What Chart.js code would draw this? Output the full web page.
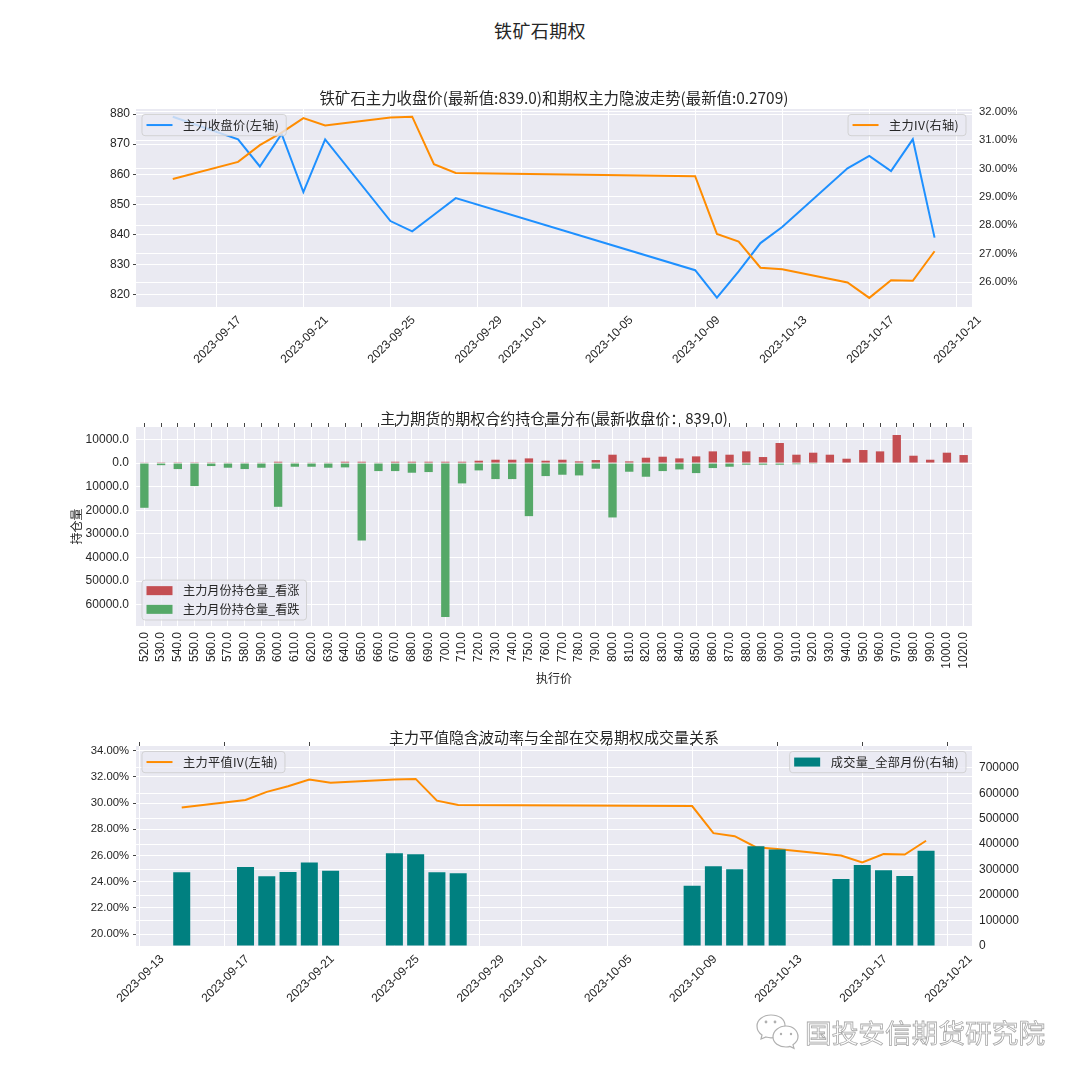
<!DOCTYPE html>
<html>
<head>
<meta charset="utf-8">
<script src="https://cdn.jsdelivr.net/npm/chart.js@4"></script>
<style>
html, body { margin: 0; padding: 0; background: #fff; }
body { position: relative; width: 1080px; height: 1080px; overflow: hidden; font-family: "Noto Sans CJK SC", sans-serif; }
canvas { position: absolute; left: 28px; }
#suptitle { position: absolute; left: 0; width: 1080px; top: 18px; text-align: center; font-size: 18px; line-height: 24px; color: #262626; letter-spacing: .4px; }
#mark { position: absolute; left: 805px; top: 1013px; font-size: 26.7px; line-height: 38px; color: #fff; -webkit-text-stroke: .8px #a8a8a8; white-space: nowrap; }
#icon { position: absolute; left: 755px; top: 1012px; }
</style>
</head>
<body>
<div id="suptitle">铁矿石期权</div>
<canvas id="c1" width="1052" height="303" style="top:89px;width:1052px;height:303px"></canvas>
<canvas id="c2" width="1052" height="281" style="top:409px;width:1052px;height:281px"></canvas>
<canvas id="c3" width="1052" height="298" style="top:728px;width:1052px;height:298px"></canvas>
<svg id="icon" width="46" height="40" viewBox="0 0 46 40">
  <path d="M16 3C8 3 2 8 2 14c0 4 2 7 5 9l-1 4 5-2c2 .6 3 .8 5 .8 8 0 14-5 14-12S24 3 16 3z" fill="#fff" stroke="#b0b0b0" stroke-width="1.2"/>
  <path d="M31 14c-7 0-13 5-13 11s6 10 13 10c1.500 0 3-.2 4-.6l4 2-1-3.600c3-2 5-5 5-8 0-6-5-10.800-12-10.800z" fill="#fff" stroke="#b0b0b0" stroke-width="1.2"/>
  <circle cx="11" cy="10" r="1.400" fill="#b0b0b0"/><circle cx="20" cy="10" r="1.400" fill="#b0b0b0"/>
  <circle cx="26" cy="22" r="1.200" fill="#b0b0b0"/><circle cx="36" cy="22" r="1.200" fill="#b0b0b0"/>
</svg>
<div id="mark">国投安信期货研究院</div>

<script>
// Datos
const fechas = ['2023-09-15','2023-09-18','2023-09-19','2023-09-20','2023-09-21','2023-09-22','2023-09-25','2023-09-26','2023-09-27','2023-09-28',
  '2023-10-09','2023-10-10','2023-10-11','2023-10-12','2023-10-13','2023-10-16','2023-10-17','2023-10-18','2023-10-19','2023-10-20'];
const cierre = [879.1,871.6,862.6,873.4,854.1,871.6,844.5,841.1,846.6,852.1,828.2,819.1,827.8,837.2,842.5,862,866.1,861.1,871.6,839];
const ivPrincipal = [29.63,30.23,30.82,31.26,31.77,31.51,31.79,31.82,30.15,29.84,29.73,27.70,27.43,26.51,26.46,25.99,25.45,26.07,26.05,27.09];
const ivPlano = [29.66,30.24,30.86,31.29,31.80,31.55,31.80,31.85,30.19,29.86,29.78,27.71,27.48,26.64,26.51,26.00,25.47,26.11,26.08,27.13];
const volumen = [289500,310500,273700,290800,327600,296000,364500,360500,289500,285500,236800,313200,301300,392100,378900,263200,318400,297400,275000,373700];

const strikes = ['520.0','530.0','540.0','550.0','560.0','570.0','580.0','590.0','600.0','610.0','620.0','630.0','640.0','650.0','660.0','670.0','680.0','690.0','700.0','710.0',
  '720.0','730.0','740.0','750.0','760.0','770.0','780.0','790.0','800.0','810.0','820.0','830.0','840.0','850.0','860.0','870.0','880.0','890.0','900.0','910.0',
  '920.0','930.0','940.0','950.0','960.0','970.0','980.0','990.0','1000.0','1020.0'];
const oiCall = [280,100,100,100,100,150,280,280,560,280,280,280,560,560,280,560,560,560,560,560,
  990,1410,1410,1980,990,1410,710,1270,3540,710,2260,2690,1980,2830,4950,3540,4950,2550,8490,3540,
  4390,3540,1840,5520,4950,11890,3110,1410,4390,3400];
const oiPut = [-18960,-900,-2550,-9760,-1270,-1980,-2550,-1980,-18540,-1560,-1560,-1980,-1840,-32830,-3400,-3400,-4100,-3820,-65230,-8630,
  -3110,-6790,-6790,-22500,-5520,-4950,-5240,-2400,-23060,-3680,-5800,-3400,-2690,-4250,-2120,-1560,-700,-700,-700,-500,
  -100,0,0,0,0,0,0,0,0,0];

const ticksFecha1 = ['2023-09-17','2023-09-21','2023-09-25','2023-09-29','2023-10-01','2023-10-05','2023-10-09','2023-10-13','2023-10-17','2023-10-21'];
const ticksFecha3 = ['2023-09-13','2023-09-17','2023-09-21','2023-09-25','2023-09-29','2023-10-01','2023-10-05','2023-10-09','2023-10-13','2023-10-17','2023-10-21'];
const ticksCierre = [820,830,840,850,860,870,880];
const ticksIvDer = [26,27,28,29,30,31,32];
const ticksOi = [10000,0,-10000,-20000,-30000,-40000,-50000,-60000];
const ticksIvIzq = [20,22,24,26,28,30,32,34];
const ticksVol = [0,100000,200000,300000,400000,500000,600000,700000];

const FUENTE = '"Liberation Sans","Noto Sans CJK SC",sans-serif';
const TEXTO = '#262626';
const FONDO = '#EAEAF2';

const aDia = s => Date.parse(s + 'T00:00:00Z') / 864e5;
const aFecha = d => new Date(d * 864e5).toISOString().slice(0, 10);
const puntos = (arr) => arr.map((v, i) => ({ x: aDia(fechas[i]), y: v }));

// Fondo gris del area de dibujo y leyendas tipo matplotlib (hay dos por grafico)
const fondoYLeyenda = {
  id: 'fondoYLeyenda',
  beforeDraw(chart) {
    const a = chart.chartArea, ctx = chart.ctx;
    ctx.save();
    ctx.fillStyle = FONDO;
    ctx.fillRect(a.left, a.top, a.right - a.left, a.bottom - a.top);
    ctx.restore();
  },
  afterDraw(chart, args, opts) {
    (opts.cajas || []).forEach(caja => dibujarCaja(chart, caja));
  }
};

function dibujarCaja(chart, caja) {
  const a = chart.chartArea, ctx = chart.ctx;
  ctx.save();
  ctx.font = '12.2px "Noto Sans CJK SC"';
  ctx.letterSpacing = (caja.espacio || 0) + 'px';
  let anchoTexto = 0;
  caja.items.forEach(it => { anchoTexto = Math.max(anchoTexto, ctx.measureText(it.texto).width); });
  const ancho = 4.5 + 26 + 10.5 + anchoTexto + 7;
  const fila = 18.7;
  const alto = caja.items.length * fila + 2.5;
  const x = caja.lado === 'der' ? a.right - 6 - ancho : a.left + 6;
  const y = caja.vert === 'abajo' ? a.bottom - 6 - alto : a.top + 5.5;
  ctx.beginPath();
  ctx.roundRect(x, y, ancho, alto, 3);
  ctx.fillStyle = 'rgba(234,234,242,0.8)';
  ctx.fill();
  ctx.strokeStyle = 'rgba(204,204,204,0.8)';
  ctx.lineWidth = 1;
  ctx.stroke();
  caja.items.forEach((it, i) => {
    const cy = y + 1.2 + fila * (i + 0.5);
    if (it.tipo === 'barra') {
      ctx.fillStyle = it.color;
      ctx.fillRect(x + 4.5, cy - 4.5, 26, 9);
    } else {
      ctx.strokeStyle = it.color;
      ctx.lineWidth = 2;
      ctx.beginPath();
      ctx.moveTo(x + 4.5, cy);
      ctx.lineTo(x + 30.5, cy);
      ctx.stroke();
    }
    ctx.fillStyle = TEXTO;
    ctx.textBaseline = 'middle';
    ctx.textAlign = 'left';
    ctx.fillText(it.texto, x + 41, cy);
  });
  ctx.restore();
}

const fijarAncho = w => s => { s.width = w; };
const fijarAlto = h => s => { s.height = h; };
const fuenteTick = { family: FUENTE, size: 12 };
const fuentePct = { family: FUENTE, size: 11.3 };

function titulo(texto, size, abajo) {
  return { display: true, text: texto, color: TEXTO, padding: { top: 0, bottom: abajo }, font: { family: '"Noto Sans CJK SC"', size, weight: 'normal', lineHeight: 18 / size } };
}

function ejeY(pos, lista, fmt, min, max, conMarca, padding, fuente) {
  return {
    position: pos, min, max,
    afterFit: fijarAncho(108),
    afterBuildTicks: s => { s.ticks = lista.map(v => ({ value: v })); },
    border: { display: false },
    grid: { color: '#fff', lineWidth: 1, drawTicks: conMarca, tickLength: 3, tickColor: '#444' },
    ticks: { font: fuente, color: TEXTO, padding, callback: fmt, autoSkip: false }
  };
}

function ejeFecha(lista, min, max, alto) {
  return {
    type: 'linear', position: 'bottom', min, max, offset: false,
    afterFit: fijarAlto(alto),
    afterBuildTicks: s => { s.ticks = lista.map(d => ({ value: aDia(d) })); },
    border: { display: false },
    grid: { color: '#fff', lineWidth: 1, drawTicks: false, offset: false },
    ticks: { font: fuenteTick, color: TEXTO, minRotation: 45, maxRotation: 45, autoSkip: false, labelOffset: 23, padding: 6, callback: v => aFecha(v) }
  };
}

const opcionesBase = {
  responsive: false,
  animation: false,
  devicePixelRatio: 1,
  layout: { padding: 0 }
};

// Grafico 1
new Chart(document.getElementById('c1'), {
  type: 'line',
  plugins: [fondoYLeyenda],
  data: {
    datasets: [
      { label: '主力IV(右轴)', data: puntos(ivPrincipal), yAxisID: 'yDer', borderColor: '#FF8C00', borderWidth: 2, pointRadius: 0, tension: 0, order: 1 },
      { label: '主力收盘价(左轴)', data: puntos(cierre), yAxisID: 'yIzq', borderColor: '#1E90FF', borderWidth: 2, pointRadius: 0, tension: 0, order: 2 }
    ]
  },
  options: {
    ...opcionesBase,
    plugins: {
      legend: { display: false },
      tooltip: { enabled: false },
      title: titulo('铁矿石主力收盘价(最新值:839.0)和期权主力隐波走势(最新值:0.2709)', 15.4, 2),
      fondoYLeyenda: { cajas: [
        { lado: 'izq', espacio: 0.3, items: [{ texto: '主力收盘价(左轴)', color: '#1E90FF', tipo: 'linea' }] },
        { lado: 'der', espacio: 0.3, items: [{ texto: '主力IV(右轴)', color: '#FF8C00', tipo: 'linea' }] }
      ] }
    },
    scales: {
      x: ejeFecha(ticksFecha1, aDia('2023-09-17') - 3.69, aDia('2023-10-21') + 0.72, 85),
      yIzq: ejeY('left', ticksCierre, v => String(v), 816, 881.66, true, 3, fuenteTick),
      yDer: ejeY('right', ticksIvDer, v => v.toFixed(2) + '%', 25.13, 32.09, false, 7, fuentePct)
    }
  }
});

// Grafico 2
new Chart(document.getElementById('c2'), {
  type: 'bar',
  plugins: [fondoYLeyenda],
  data: {
    labels: strikes,
    datasets: [
      { label: '主力月份持仓量_看涨', data: oiCall, backgroundColor: '#C44E52', stack: 'oi', barPercentage: 0.5, categoryPercentage: 1 },
      { label: '主力月份持仓量_看跌', data: oiPut, backgroundColor: '#55A868', stack: 'oi', barPercentage: 0.5, categoryPercentage: 1 }
    ]
  },
  options: {
    ...opcionesBase,
    plugins: {
      legend: { display: false },
      tooltip: { enabled: false },
      title: titulo('主力期货的期权合约持仓量分布(最新收盘价：839.0)', 15, 0),
      fondoYLeyenda: { cajas: [
        { lado: 'izq', vert: 'abajo', items: [
          { texto: '主力月份持仓量_看涨', color: '#C44E52', tipo: 'barra' },
          { texto: '主力月份持仓量_看跌', color: '#55A868', tipo: 'barra' }
        ] }
      ] }
    },
    scales: {
      x: {
        type: 'category', position: 'bottom', stacked: true, offset: true,
        afterFit: fijarAlto(64),
        border: { display: false },
        grid: { color: '#fff', lineWidth: 1, drawTicks: false, offset: false },
        title: { display: true, text: '执行价', color: TEXTO, padding: { top: 0, bottom: 4 }, font: { family: '"Noto Sans CJK SC"', size: 12, lineHeight: 1.2 } },
        ticks: { font: fuenteTick, color: TEXTO, minRotation: 90, maxRotation: 90, autoSkip: false, padding: 6 }
      },
      xTop: {
        type: 'category', position: 'top', labels: strikes, offset: true,
        afterFit: fijarAlto(0),
        border: { display: false },
        grid: { drawOnChartArea: false, tickLength: 4, tickColor: '#444', offset: false },
        ticks: { display: false, autoSkip: false }
      },
      y: {
        ...ejeY('left', ticksOi, v => Math.abs(v).toFixed(1), -69060, 15280, false, 7, fuenteTick),
        stacked: true,
        title: { display: true, text: '持仓量', color: TEXTO, padding: { top: 41, bottom: 0 }, font: { family: '"Noto Sans CJK SC"', size: 12, lineHeight: 1.2 } }
      },
      yVacio: {
        position: 'right', min: 0, max: 1,
        afterFit: fijarAncho(108),
        border: { display: false },
        grid: { drawOnChartArea: false, drawTicks: false },
        ticks: { display: false }
      }
    }
  }
});

// Grafico 3
new Chart(document.getElementById('c3'), {
  type: 'bar',
  plugins: [fondoYLeyenda],
  data: {
    datasets: [
      { type: 'bar', label: '成交量_全部月份(右轴)', data: puntos(volumen), yAxisID: 'yDer', backgroundColor: '#008080', barPercentage: 0.8, categoryPercentage: 1, order: 1 },
      { type: 'line', label: '主力平值IV(左轴)', data: puntos(ivPlano), yAxisID: 'yIzq', borderColor: '#FF8C00', borderWidth: 2, pointRadius: 0, tension: 0, order: 2 }
    ]
  },
  options: {
    ...opcionesBase,
    plugins: {
      legend: { display: false },
      tooltip: { enabled: false },
      title: titulo('主力平值隐含波动率与全部在交易期权成交量关系', 15, 0),
      fondoYLeyenda: { cajas: [
        { lado: 'izq', espacio: 0.3, items: [{ texto: '主力平值IV(左轴)', color: '#FF8C00', tipo: 'linea' }] },
        { lado: 'der', espacio: 0.3, items: [{ texto: '成交量_全部月份(右轴)', color: '#008080', tipo: 'barra' }] }
      ] }
    },
    scales: {
      x: ejeFecha(ticksFecha3, aDia('2023-09-17') - 4.15, aDia('2023-10-21') + 1.16, 80),
      xTop: {
        type: 'linear', position: 'top', offset: false, min: aDia('2023-09-17') - 4.15, max: aDia('2023-10-21') + 1.16,
        afterFit: fijarAlto(0),
        afterBuildTicks: s => { s.ticks = ticksFecha3.map(d => ({ value: aDia(d) })); },
        border: { display: false },
        grid: { drawOnChartArea: false, tickLength: 4, tickColor: '#444', offset: false },
        ticks: { display: false, autoSkip: false }
      },
      yIzq: ejeY('left', ticksIvIzq, v => v.toFixed(2) + '%', 19.1, 34.36, true, 4, fuentePct),
      yDer: ejeY('right', ticksVol, v => String(v), 0, 785700, false, 7, fuenteTick)
    }
  }
});
</script>
</body>
</html>
